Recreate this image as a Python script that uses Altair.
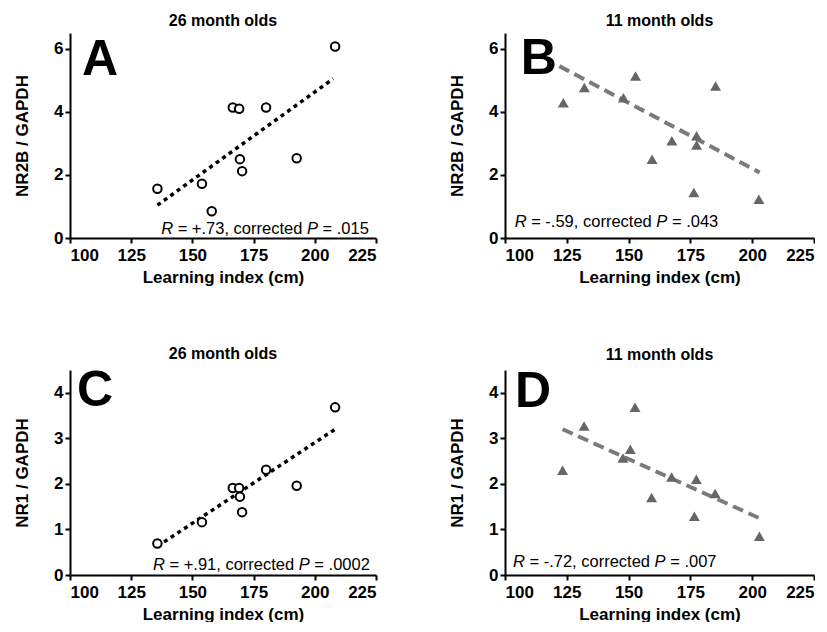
import altair as alt
import pandas as pd

FONT = "Liberation Sans"

# ---------------- data ----------------
# 26 month olds (open circles)
old_nr2b_x = [135.7, 153.9, 157.9, 166.5, 169.1, 169.4, 170.3, 180.1, 192.6, 208.3]
old_nr2b_y = [1.56, 1.72, 0.85, 4.14, 4.10, 2.50, 2.12, 4.14, 2.53, 6.07]
old_nr1_x = [135.7, 153.9, 166.5, 169.1, 169.4, 170.3, 180.1, 192.6, 208.3]
old_nr1_y = [0.69, 1.16, 1.91, 1.91, 1.72, 1.38, 2.31, 1.96, 3.68]
# 11 month olds (grey triangles)
young_nr2b_x = [123.6, 132.1, 147.9, 152.8, 159.5, 167.5, 177.5, 177.5, 176.4, 185.2, 202.7]
young_nr2b_y = [4.29, 4.77, 4.45, 5.14, 2.50, 3.08, 3.24, 2.95, 1.44, 4.82, 1.23]
young_nr1_x = [123.3, 132.0, 147.7, 150.7, 152.6, 159.3, 167.4, 177.4, 176.6, 185.0, 202.9]
young_nr1_y = [2.30, 3.27, 2.57, 2.76, 3.68, 1.70, 2.15, 2.10, 1.29, 1.79, 0.85]

# regression line end points
fit_a_x, fit_a_y = [135.7, 207.5], [1.04, 5.05]
fit_b_x, fit_b_y = [122.0, 203.0], [5.45, 2.08]
fit_c_x, fit_c_y = [135.7, 208.3], [0.63, 3.20]
fit_d_x, fit_d_y = [123.3, 203.2], [3.20, 1.24]

x_ticks = [100, 125, 150, 175, 200, 225]
nr2b_ticks = [0, 2, 4, 6]
nr1_ticks = [0, 1, 2, 3, 4]

titles = ["26 month olds", "11 month olds", "26 month olds", "11 month olds"]
letters = ["A", "B", "C", "D"]
y_titles = ["NR2B / GAPDH", "NR2B / GAPDH", "NR1 / GAPDH", "NR1 / GAPDH"]
stats = [("+.73", ".015"), ("-.59", ".043"), ("+.91", ".0002"), ("-.72", ".007")]

# Arial / Liberation Sans advance widths (per 1000 em)
W = {" ": 278, "=": 584, "+": 584, "-": 333, ".": 278, ",": 278,
     "a": 556, "c": 500, "d": 556, "e": 556, "o": 556, "r": 333, "t": 278,
     "R": 722, "P": 667}


def tw(s, size):
    return sum(W.get(ch, 556) for ch in s) / 1000.0 * size


def panel(px, py, fx, fy, kind, ymax, yticks, ytitle, title, letter, lx, ly,
          r_txt, p_txt, ax, ay, right_aligned, width):
    X = alt.X("x:Q", scale=alt.Scale(domain=[100, 225], nice=False, zero=False),
              axis=alt.Axis(values=x_ticks, title="Learning index (cm)"))
    Y = alt.Y("y:Q", scale=alt.Scale(domain=[0, ymax], nice=False),
              axis=alt.Axis(values=yticks, title=ytitle))
    pts = pd.DataFrame({"x": px, "y": py})
    fit = pd.DataFrame({"x": fx, "y": fy})
    if kind == "old":
        line = alt.Chart(fit).mark_line(color="black", strokeWidth=3.5,
                                        strokeDash=[4, 4]).encode(x=X, y=Y)
        points = alt.Chart(pts).mark_point(shape="circle", filled=True, fill="white",
                                           stroke="black", strokeWidth=2, size=72,
                                           opacity=1).encode(x=X, y=Y)
    else:
        line = alt.Chart(fit).mark_line(color="#7a7a7a", strokeWidth=4,
                                        strokeDash=[11, 6]).encode(x=X, y=Y)
        points = alt.Chart(pts).mark_point(shape="triangle-up", filled=True,
                                           color="#666666", size=120,
                                           opacity=1).encode(x=X, y=Y)
    let = alt.Chart(pd.DataFrame({"x": [lx], "y": [ly], "t": [letter]})).mark_text(
        font=FONT, fontSize=50, fontWeight="bold", align="left",
        baseline="alphabetic", color="black").encode(x=X, y=Y, text="t:N")

    fs = 16.5
    pieces = [("R", "italic"), ("= " + r_txt + ", corrected", "normal"),
              ("P", "italic"), ("= " + p_txt, "normal")]
    gaps = ["R ", "= " + r_txt + ", corrected ", "P ", "= " + p_txt]
    offsets = []
    acc = 0.0
    for g in gaps:
        offsets.append(acc)
        acc += tw(g, fs)
    total = acc
    annots = []
    for (txt, style), off in zip(pieces, offsets):
        dx = off - total if right_aligned else off
        annots.append(
            alt.Chart(pd.DataFrame({"x": [ax], "y": [ay], "t": [txt]})).mark_text(
                font=FONT, fontSize=fs, fontStyle=style, fontWeight="normal",
                align="left", baseline="alphabetic", color="black", dx=dx
            ).encode(x=X, y=Y, text="t:N")
        )
    return alt.layer(line, points, let, *annots).properties(
        width=width, height=205,
        title=alt.TitleParams(title, font=FONT, fontSize=16, fontWeight="bold",
                              color="black", anchor="middle", offset=4),
    )


pa = panel(old_nr2b_x, old_nr2b_y, fit_a_x, fit_a_y, "old", 6.5, nr2b_ticks,
           y_titles[0], titles[0], letters[0], 104.9, 5.16,
           stats[0][0], stats[0][1], 222.1, 0.13, True, 306)
pb = panel(young_nr2b_x, young_nr2b_y, fit_b_x, fit_b_y, "young", 6.5, nr2b_ticks,
           y_titles[1], titles[1], letters[1], 106.4, 5.21,
           stats[1][0], stats[1][1], 103.9, 0.34, False, 309)
pc = panel(old_nr1_x, old_nr1_y, fit_c_x, fit_c_y, "old", 4.5, nr1_ticks,
           y_titles[2], titles[2], letters[2], 102.9, 3.70,
           stats[2][0], stats[2][1], 222.5, 0.10, True, 306)
pd_ = panel(young_nr1_x, young_nr1_y, fit_d_x, fit_d_y, "young", 4.5, nr1_ticks,
            y_titles[3], titles[3], letters[3], 104.0, 3.68,
            stats[3][0], stats[3][1], 103.2, 0.17, False, 309)

chart = alt.concat(pa, pb, pc, pd_, columns=2,
                   spacing=alt.RowColnumber(row=132, column=129),
                   bounds="flush").properties(
    padding={"left": 5, "top": 5, "right": 0, "bottom": 0}
).configure_view(stroke=None).configure_axis(
    grid=False, domainColor="black", domainWidth=2, tickColor="black",
    tickWidth=2, tickSize=5, labelFont=FONT, labelFontSize=17,
    labelFontWeight="bold", labelColor="black", titleFont=FONT,
    titleFontSize=17, titleFontWeight="bold", titleColor="black",
    labelOverlap=False,
).configure_axisX(labelPadding=4, titlePadding=6).configure_axisY(
    labelPadding=2, titlePadding=22)

chart.save("out.html", embed_options={"renderer": "svg", "actions": False})
